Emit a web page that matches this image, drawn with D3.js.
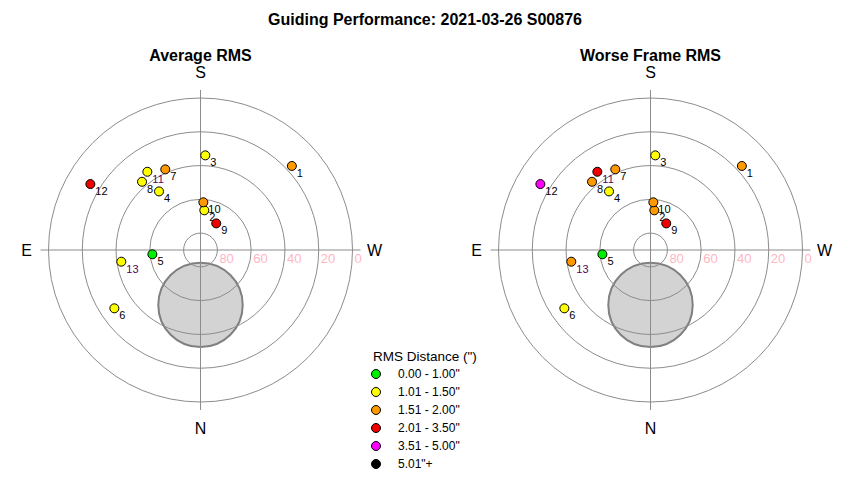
<!DOCTYPE html>
<html>
  <head>
    <meta charset="UTF-8" />
    <style>
      body { margin: 0; background: white; }
      svg { font-family: "Liberation Sans", Arial, sans-serif; }
    </style>
  </head>
  <body>
    <svg></svg>
    <script src="https://d3js.org/d3.v7.min.js"></script>
    <script>
      let width = 850,
        height = 480;

      // frame numbers, sky position (deg) and rms values (arcsec)
      const frameIds = [1, 2, 3, 4, 5, 6, 7, 8, 9, 10, 11, 12, 13];
      const altitudes = [16.5, 66.4, 33.9, 47.5, 61.4, 28.4, 37.9, 36.8, 71.7, 61.7, 34.0, 14.0, 42.6];
      const azimuths = [227.4, 185.5, 182.9, 144.7, 84.9, 55.9, 156.4, 139.4, 210.6, 183.4, 145.8, 120.9, 81.6];
      const averageRms = [1.62, 1.35, 1.22, 1.41, 0.94, 1.18, 1.73, 1.46, 2.21, 1.58, 1.48, 2.35, 1.29];
      const worseRms = [1.88, 1.62, 1.44, 1.49, 0.98, 1.39, 1.95, 1.71, 2.64, 1.8, 2.12, 3.72, 1.56];

      const ringAltitudes = [80, 60, 40, 20, 0];
      const legendLabels = ['0.00 - 1.00"', '1.01 - 1.50"', '1.51 - 2.00"', '2.01 - 3.50"', '3.51 - 5.00"', '5.01"+'];
      const rmsBreaks = [1.005, 1.505, 2.005, 3.505, 5.005];
      const rmsColors = ["#00ee00", "#ffff00", "#ff9900", "#ee0000", "#ff00ff", "#000000"];

      // blocked region (alt, az, radius in degrees)
      const blocked = { alt: 57.5, az: 0, radius: 25 };

      let svg = d3.select("svg").attr("width", width).attr("height", height);

      let color = d3.scaleThreshold().domain(rmsBreaks).range(rmsColors);
      let r = d3.scaleLinear().domain([90, 0]).range([0, 152]);

      let frames = frameIds.map((id, i) => ({
        id: id,
        alt: altitudes[i],
        az: azimuths[i],
        avg: averageRms[i],
        worse: worseRms[i],
      }));

      // N at bottom, E at left, S at top, W at right
      function project(alt, az) {
        let rad = (az * Math.PI) / 180;
        return [-r(alt) * Math.sin(rad), r(alt) * Math.cos(rad)];
      }

      svg.append("text")
        .attr("x", width / 2)
        .attr("y", 25)
        .attr("text-anchor", "middle")
        .attr("font-weight", "bold")
        .attr("font-size", 16)
        .text("Guiding Performance: 2021-03-26 S00876");

      function drawPanel(cx, title, key) {
        let g = svg.append("g").attr("transform", `translate(${cx},250)`);

        svg.append("text")
          .attr("x", cx)
          .attr("y", 61)
          .attr("text-anchor", "middle")
          .attr("font-weight", "bold")
          .attr("font-size", 16)
          .text(title);

        // the blocked disc sits under the grid
        let b = project(blocked.alt, blocked.az);
        g.append("circle")
          .attr("cx", b[0])
          .attr("cy", b[1])
          .attr("r", r(90 - blocked.radius))
          .attr("fill", "#d3d3d3")
          .attr("stroke", "#808080")
          .attr("stroke-width", 2);

        g.selectAll("circle.ring")
          .data(ringAltitudes)
          .join("circle")
          .attr("class", "ring")
          .attr("r", (d) => r(d))
          .attr("fill", "none")
          .attr("stroke", "#8c8c8c")
          .attr("stroke-width", 1);

        let ext = r(0) + 8;
        g.append("line").attr("x1", -ext).attr("x2", ext)
          .attr("stroke", "#8c8c8c");
        g.append("line").attr("y1", -ext).attr("y2", ext)
          .attr("stroke", "#8c8c8c");

        g.selectAll("text.ringlab")
          .data(ringAltitudes)
          .join("text")
          .attr("class", "ringlab")
          .attr("x", (d) => r(d) + 2)
          .attr("y", 13)
          .attr("font-size", 13)
          .attr("fill", "#ffb6c1")
          .text((d) => d);

        let dirs = [
          ["S", 0, -(r(0) + 26)],
          ["N", 0, r(0) + 26],
          ["E", -(r(0) + 22), 0],
          ["W", r(0) + 22, 0],
        ];
        g.selectAll("text.dir")
          .data(dirs)
          .join("text")
          .attr("class", "dir")
          .attr("x", (d) => d[1])
          .attr("y", (d) => d[2])
          .attr("dy", "0.36em")
          .attr("text-anchor", "middle")
          .attr("font-size", 16)
          .text((d) => d[0]);

        let pts = g.selectAll("g.pt")
          .data(frames)
          .join("g")
          .attr("class", "pt")
          .attr("transform", (d) => `translate(${project(d.alt, d.az)})`);

        pts.append("circle")
          .attr("r", 4.5)
          .attr("fill", (d) => color(d[key]))
          .attr("stroke", "black")
          .attr("stroke-width", 1);

        pts.append("text")
          .attr("x", 5)
          .attr("y", 11)
          .attr("font-size", 11)
          .attr("fill", (d) => (d.id === 11 || d.id === 13 ? "#5a0060" : "black"))
          .text((d) => d.id);
      }

      drawPanel(200.5, "Average RMS", "avg");
      drawPanel(650.5, "Worse Frame RMS", "worse");

      // legend
      let legend = svg.append("g").attr("transform", "translate(373,0)");
      legend.append("text")
        .attr("x", 0)
        .attr("y", 361)
        .attr("font-size", 13.5)
        .text('RMS Distance (")');

      let rows = legend.selectAll("g.row")
        .data(legendLabels)
        .join("g")
        .attr("class", "row")
        .attr("transform", (d, i) => `translate(0,${374 + i * 18})`);
      rows.append("circle")
        .attr("cx", 3)
        .attr("r", 4.5)
        .attr("fill", (d, i) => rmsColors[i])
        .attr("stroke", "black");
      rows.append("text")
        .attr("x", 25)
        .attr("dy", "0.36em")
        .attr("font-size", 12)
        .text((d) => d);
    </script>
  </body>
</html>
